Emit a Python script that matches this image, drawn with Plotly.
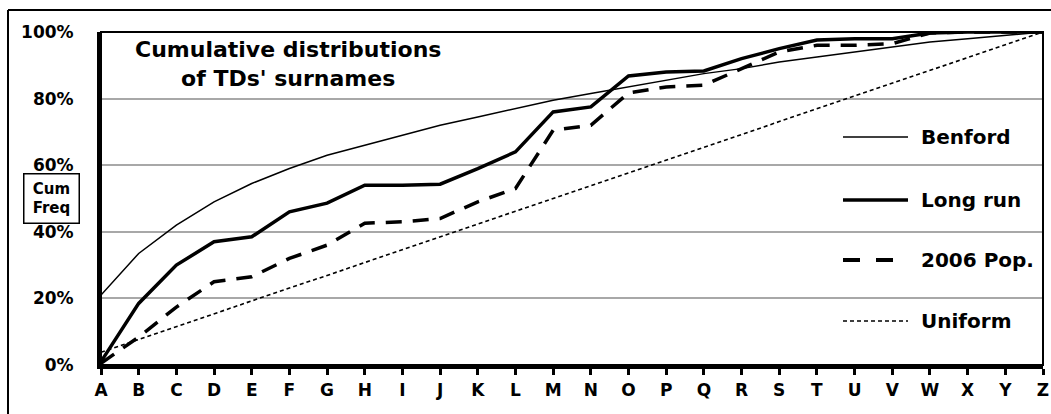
import plotly.graph_objects as go

letters = list("ABCDEFGHIJKLMNOPQRSTUVWXYZ")

benford = [21, 33.5, 42, 49, 54.5, 59, 63, 66, 69, 72, 74.5, 77, 79.5, 81.5,
           83.5, 85.5, 87.5, 89, 91, 92.5, 94, 95.5, 97, 98, 99, 100]
long_run = [1, 18.5, 30, 37, 38.5, 46, 48.6, 54, 54, 54.3, 59, 64, 76, 77.5,
            86.8, 88, 88.3, 92, 95, 97.6, 98, 98, 99.7, 100, 100, 100]
pop_2006 = [0.5, 8.4, 17.4, 25, 26.5, 32, 36, 42.6, 43, 44, 49, 53, 70.5, 72,
            81.7, 83.5, 84, 89, 94, 96, 96, 96.5, 99.7, 100, 100, 100]
uniform = [3.8, 7.7, 11.5, 15.4, 19.2, 23.1, 26.9, 30.8, 34.6, 38.5, 42.3, 46.2,
           50, 53.8, 57.7, 61.5, 65.4, 69.2, 73.1, 76.9, 80.8, 84.6, 88.5, 92.3,
           96.2, 100]
y_ticks = [0, 20, 40, 60, 80, 100]
y_tick_labels = ["0%", "20%", "40%", "60%", "80%", "100%"]

series_names = ["Benford", "Long run", "2006 Pop.", "Uniform"]
FONT = "DejaVu Sans"

fig = go.Figure()
fig.add_trace(go.Scatter(x=letters, y=uniform, mode="lines", name=series_names[3],
                         line=dict(color="black", width=1.6, dash="4px,3px")))
fig.add_trace(go.Scatter(x=letters, y=benford, mode="lines", name=series_names[0],
                         line=dict(color="black", width=1.5)))
fig.add_trace(go.Scatter(x=letters, y=pop_2006, mode="lines", name=series_names[2],
                         line=dict(color="black", width=3.5, dash="16px,11px")))
fig.add_trace(go.Scatter(x=letters, y=long_run, mode="lines", name=series_names[1],
                         line=dict(color="black", width=3.5)))

W, H = 1051, 414
L, R, T, B = 101, 8, 32, 49
pw, ph = W - L - R, H - T - B

def px(x):
    return (x - L) / pw

def py(y):
    return (H - B - y) / ph

shapes = [
    dict(type="rect", xref="paper", yref="paper", x0=0, x1=1, y0=0, y1=1,
         line=dict(color="black", width=2)),
    dict(type="line", xref="paper", yref="paper", x0=px(8), x1=px(8), y0=py(10), y1=py(420),
         line=dict(color="black", width=2)),
    dict(type="line", xref="paper", yref="paper", x0=px(8), x1=px(1060), y0=py(10), y1=py(10),
         line=dict(color="black", width=2)),
]
annotations = []

leg_y = [137, 200, 260, 321]
styles = [dict(width=1.5), dict(width=3.5), dict(width=4, dash="17px,16px"), dict(width=1.5, dash="4px,3px")]
for name, yy, st in zip(series_names, leg_y, styles):
    shapes.append(dict(type="line", xref="paper", yref="paper", x0=px(843), x1=px(908),
                       y0=py(yy), y1=py(yy), line=dict(color="black", **st)))
    annotations.append(dict(text=name, xref="paper", yref="paper", x=px(919), y=py(yy),
                            xanchor="left", yanchor="middle", showarrow=False,
                            font=dict(family=FONT, size=20, color="black", weight="bold")))

annotations.append(dict(text="Cumulative distributions<br>of TDs' surnames", xref="paper", yref="paper",
                        x=px(288), y=py(64), xanchor="center", yanchor="middle", showarrow=False,
                        align="center",
                        font=dict(family=FONT, size=22, color="black", weight="bold")))
annotations.append(dict(text="Cum<br>Freq", xref="paper", yref="paper",
                        x=px(51), y=py(198), xanchor="center", yanchor="middle", showarrow=False,
                        align="center", bordercolor="black", borderwidth=1.5, borderpad=2,
                        bgcolor="white", width=50, height=44,
                        font=dict(family=FONT, size=15, color="black", weight="bold")))

fig.update_layout(
    width=W, height=H,
    margin=dict(l=L, r=R, t=T, b=B, autoexpand=False),
    paper_bgcolor="white", plot_bgcolor="white",
    showlegend=False,
    shapes=shapes, annotations=annotations,
    xaxis=dict(type="category", categoryorder="array", categoryarray=letters,
               range=[0, 25], showgrid=False, zeroline=False, automargin=False,
               showline=True, linecolor="black", linewidth=4,
               ticks="outside", ticklen=6, tickwidth=3, tickcolor="black",
               ticklabelstandoff=1,
               tickfont=dict(family=FONT, size=17, color="black", weight="bold")),
    yaxis=dict(range=[0, 100], tickvals=y_ticks, ticktext=y_tick_labels,
               showgrid=True, gridcolor="#a8a8a8", gridwidth=1.5, automargin=False,
               zeroline=False, showline=True, linecolor="black", linewidth=4,
               ticks="", ticklabelstandoff=20,
               tickfont=dict(family=FONT, size=17, color="black", weight="bold")),
)

fig.write_html("out.html", config={"displayModeBar": False},
               post_script="document.body.style.margin='0';document.body.style.overflow='hidden';")
